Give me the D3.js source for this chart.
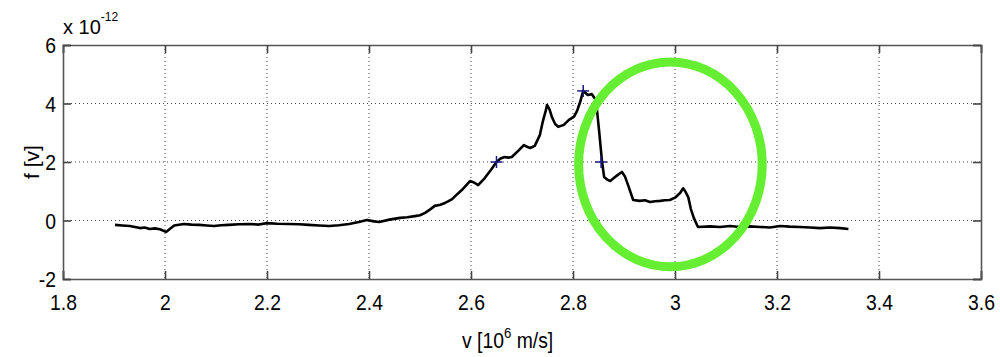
<!DOCTYPE html>
<html>
<head>
<meta charset="utf-8">
<script src="https://cdn.jsdelivr.net/npm/d3@7"></script>
<style>
  body { margin: 0; background: #fff; }
  text { font-family: "Liberation Sans", Arial, sans-serif; fill: #000; }
</style>
</head>
<body>
<div class="result"></div>
<script>
const w = 1000;
const h = 357;

// v [10^6 m/s] and f [v] (x 1e-12)
const vValues = [1.902, 1.916, 1.931, 1.941, 1.951, 1.960, 1.970, 1.980, 1.990, 2.002, 2.010, 2.018,
  2.037, 2.052, 2.067, 2.082, 2.096, 2.110, 2.125, 2.145, 2.165, 2.184,
  2.200, 2.220, 2.243, 2.263, 2.282, 2.302, 2.322, 2.341, 2.361, 2.380, 2.396, 2.410, 2.420, 2.440,
  2.461, 2.475, 2.490, 2.500, 2.510, 2.520, 2.529, 2.540, 2.549, 2.556, 2.563, 2.573, 2.582,
  2.598, 2.606, 2.614, 2.627, 2.640, 2.650, 2.658, 2.666, 2.673, 2.680, 2.692, 2.704, 2.710, 2.716,
  2.725, 2.735, 2.741, 2.747, 2.749, 2.754, 2.759, 2.765, 2.771, 2.782, 2.792, 2.802, 2.808, 2.814,
  2.820, 2.829, 2.837, 2.845, 2.851, 2.857, 2.861, 2.867, 2.873, 2.880, 2.888, 2.896, 2.902, 2.908,
  2.918, 2.931, 2.941, 2.951, 2.961, 2.971, 2.980, 2.990, 3.000, 3.010, 3.016, 3.020, 3.026, 3.031,
  3.037, 3.045, 3.069, 3.088, 3.108, 3.127, 3.147, 3.167, 3.186, 3.206, 3.225, 3.245, 3.265, 3.284,
  3.304, 3.324, 3.340];
const fValues = [-0.15, -0.17, -0.19, -0.22, -0.26, -0.24, -0.29, -0.27, -0.30, -0.39, -0.28, -0.17,
  -0.12, -0.14, -0.15, -0.17, -0.19, -0.16, -0.15, -0.13, -0.12, -0.14,
  -0.09, -0.11, -0.12, -0.13, -0.15, -0.17, -0.19, -0.16, -0.12, -0.05, 0.02, -0.03, -0.05, 0.03,
  0.09, 0.11, 0.15, 0.18, 0.26, 0.38, 0.50, 0.54, 0.60, 0.66, 0.73, 0.90, 1.04,
  1.35, 1.30, 1.21, 1.45, 1.75, 2.00, 2.12, 2.17, 2.15, 2.17, 2.37, 2.58, 2.52, 2.48,
  2.55, 2.92, 3.40, 3.78, 3.95, 3.80, 3.52, 3.30, 3.20, 3.27, 3.44, 3.55, 3.75, 4.05,
  4.43, 4.29, 4.32, 4.12, 3.10, 2.00, 1.49, 1.40, 1.35, 1.45, 1.56, 1.66, 1.50, 1.21,
  0.70, 0.67, 0.69, 0.63, 0.66, 0.67, 0.69, 0.70, 0.78, 0.94, 1.10, 1.00, 0.80, 0.40,
  0.08, -0.22, -0.20, -0.22, -0.19, -0.22, -0.20, -0.22, -0.24, -0.19, -0.21, -0.22, -0.24, -0.26,
  -0.24, -0.26, -0.29];

// marked points (+)
const markV = [2.65, 2.82, 2.855];
const markF = [2.0, 4.43, 2.0];

const xTicks = [1.8, 2, 2.2, 2.4, 2.6, 2.8, 3, 3.2, 3.4, 3.6];
const yTicks = [-2, 0, 2, 4, 6];

const margin = { top: 45, right: 19, bottom: 78, left: 63 };

const x = d3.scaleLinear().domain([1.8, 3.6]).range([margin.left, w - margin.right]);
const y = d3.scaleLinear().domain([-2, 6]).range([h - margin.bottom, margin.top]);

const svg = d3.select('.result')
  .append('svg')
  .attr('width', w)
  .attr('height', h);

// Dotted grid
svg.append('g')
  .selectAll('line')
  .data(xTicks.slice(1, -1))
  .enter()
  .append('line')
  .attr('x1', d => x(d)).attr('x2', d => x(d))
  .attr('y1', y(6)).attr('y2', y(-2))
  .attr('stroke', '#444')
  .attr('stroke-width', 1)
  .attr('stroke-dasharray', '1,3');

svg.append('g')
  .selectAll('line')
  .data(yTicks.slice(1, -1))
  .enter()
  .append('line')
  .attr('y1', d => y(d)).attr('y2', d => y(d))
  .attr('x1', x(1.8)).attr('x2', x(3.6))
  .attr('stroke', '#444')
  .attr('stroke-width', 1)
  .attr('stroke-dasharray', '1,3');

// Axes
const tickSize = 8;
const squeeze = 0.88; // tick labels look a bit narrow in the source
const xAxis = svg.append('g')
  .attr('transform', 'translate(0,' + y(-2) + ')')
  .call(d3.axisBottom(x).tickValues(xTicks).tickSize(-tickSize).tickPadding(15).tickFormat(d3.format('')));
const xAxisTop = svg.append('g')
  .attr('transform', 'translate(0,' + y(6) + ')')
  .call(d3.axisTop(x).tickValues(xTicks).tickSize(-tickSize).tickFormat(''));
const yAxis = svg.append('g')
  .attr('transform', 'translate(' + x(1.8) + ',0)')
  .call(d3.axisLeft(y).tickValues(yTicks).tickSize(-tickSize).tickPadding(6).tickFormat(d3.format('')));
const yAxisRight = svg.append('g')
  .attr('transform', 'translate(' + x(3.6) + ',0)')
  .call(d3.axisRight(y).tickValues(yTicks).tickSize(-tickSize).tickFormat(''));

[xAxis, xAxisTop, yAxis, yAxisRight].forEach(g => {
  g.select('.domain').attr('stroke', '#555').attr('stroke-width', 1.6);
  g.selectAll('.tick line').attr('stroke', '#444').attr('stroke-width', 1.6);
  g.selectAll('text').attr('font-size', 22).attr('font-family', null).attr('fill', '#000');
});
xAxis.selectAll('text').attr('dy', '0.71em').attr('transform', 'scale(' + squeeze + ',1)');
yAxis.selectAll('text')
  .text(d => d < 0 ? '-' + Math.abs(d) : d)
  .attr('dy', '0.36em')
  .attr('x', -7 / squeeze)
  .attr('transform', 'scale(' + squeeze + ',1)');

// Curve
const line = d3.line()
  .x((d, i) => x(vValues[i]))
  .y(d => y(d));

svg.append('path')
  .datum(fValues)
  .attr('fill', 'none')
  .attr('stroke', '#000')
  .attr('stroke-width', 2.6)
  .attr('stroke-linejoin', 'round')
  .attr('d', line);

// Markers
const marks = svg.append('g')
  .selectAll('g')
  .data(markV)
  .enter()
  .append('g')
  .attr('transform', (d, i) => 'translate(' + x(d) + ',' + y(markF[i]) + ')');
marks.append('line').attr('x1', -6).attr('x2', 6).attr('stroke', '#1a1a80').attr('stroke-width', 1.5);
marks.append('line').attr('y1', -6).attr('y2', 6).attr('stroke', '#1a1a80').attr('stroke-width', 1.5);

// Green highlight ellipse
const ellV = 2.991, ellF = 1.92, ellRv = 0.18, ellRf = 3.5;
svg.append('ellipse')
  .attr('cx', x(ellV))
  .attr('cy', y(ellF))
  .attr('rx', x(ellV + ellRv) - x(ellV))
  .attr('ry', y(ellF - ellRf) - y(ellF))
  .attr('fill', 'none')
  .attr('stroke', '#66ee33')
  .attr('stroke-width', 9);

// Labels
const xl = svg.append('text')
  .attr('transform', 'translate(462,348) scale(0.88,1)')
  .attr('font-size', 22);
xl.append('tspan').text('v [10');
xl.append('tspan').text('6').attr('font-size', 15).attr('dy', -10);
xl.append('tspan').text(' m/s]').attr('dy', 10);

svg.append('text')
  .attr('transform', 'translate(39,' + y(2) + ') rotate(-90)')
  .attr('text-anchor', 'middle')
  .attr('font-size', 21)
  .text('f [v]');

const ex = svg.append('text')
  .attr('x', 63)
  .attr('y', 34)
  .attr('font-size', 20);
ex.append('tspan').text('x 10');
ex.append('tspan').text('-12').attr('font-size', 12).attr('dy', -13);
</script>
</body>
</html>
